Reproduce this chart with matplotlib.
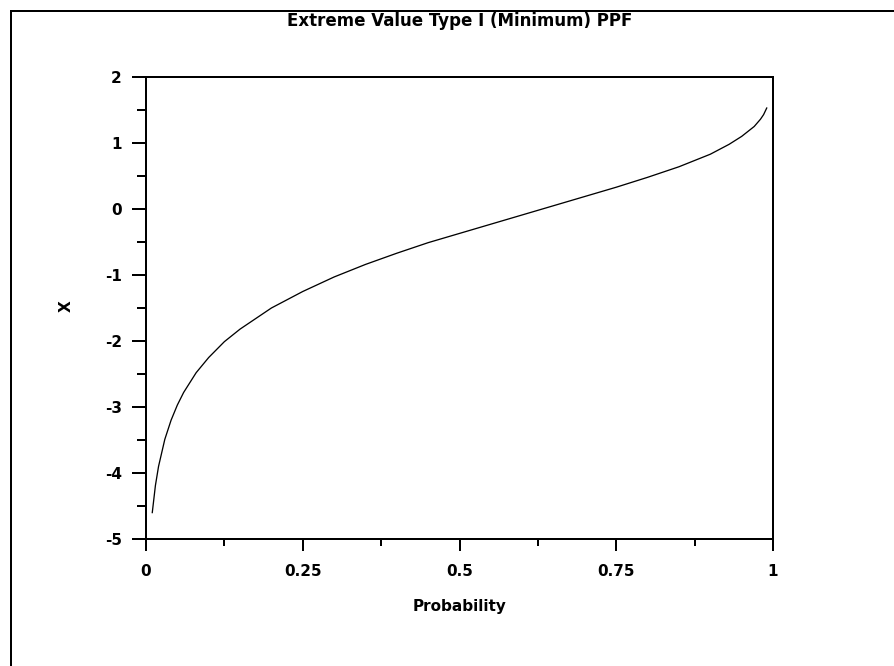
import matplotlib
matplotlib.use("Agg")
import matplotlib.pyplot as plt
from matplotlib.patches import Rectangle

# Data
prob = [0.01, 0.015, 0.02, 0.03, 0.04, 0.05, 0.06, 0.08, 0.10, 0.125, 0.15, 0.20, 0.25,
        0.30, 0.35, 0.40, 0.45, 0.50, 0.55, 0.60, 0.65, 0.70, 0.75, 0.80, 0.85,
        0.90, 0.93, 0.95, 0.97, 0.98, 0.985, 0.99]
xval = [-4.60, -4.19, -3.90, -3.49, -3.20, -2.97, -2.78, -2.48, -2.25, -2.01, -1.82, -1.50, -1.25,
        -1.03, -0.84, -0.67, -0.51, -0.37, -0.23, -0.09, 0.05, 0.19, 0.33, 0.48, 0.64,
        0.83, 0.98, 1.10, 1.25, 1.36, 1.43, 1.53]
xticks = [0, 0.25, 0.5, 0.75, 1]
xticklabels = ["0", "0.25", "0.5", "0.75", "1"]
yticks = [-5, -4, -3, -2, -1, 0, 1, 2]
yticklabels = ["-5", "-4", "-3", "-2", "-1", "0", "1", "2"]

W, H = 894, 666
PX = 72 / 100  # points per pixel
fig = plt.figure(figsize=(W / 100, H / 100), dpi=100)
fig.patch.set_facecolor("white")

# outer frame (left and top visible)
fig.patches.append(Rectangle((11 / W, -0.1), 1.2, (H - 11) / H + 0.1,
                             transform=fig.transFigure, fill=False,
                             edgecolor="black", linewidth=2 * PX))

left, right, top, bottom = 146, 773, 77, 539
ax = fig.add_axes([left / W, 1 - bottom / H, (right - left) / W, (bottom - top) / H])
ax.plot(prob, xval, color="black", linewidth=1.3 * PX)
ax.set_xlim(0, 1)
ax.set_ylim(-5, 2)
ax.set_xticks(xticks)
ax.set_xticklabels(xticklabels)
ax.set_yticks(yticks)
ax.set_yticklabels(yticklabels)
ax.set_xticks([0.125, 0.375, 0.625, 0.875], minor=True)
ax.set_yticks([-4.5, -3.5, -2.5, -1.5, -0.5, 0.5, 1.5], minor=True)
for s in ax.spines.values():
    s.set_linewidth(2 * PX)
tfont = dict(family="DejaVu Sans", weight="bold", size=11)
ax.tick_params(axis="x", which="major", direction="out", length=12 * PX, width=2 * PX, pad=13 * PX)
ax.tick_params(axis="x", which="minor", direction="out", length=7 * PX, width=2 * PX)
ax.tick_params(axis="y", which="major", direction="out", length=14 * PX, width=2 * PX, pad=10 * PX)
ax.tick_params(axis="y", which="minor", direction="out", length=9 * PX, width=2 * PX)
for lab in ax.get_xticklabels() + ax.get_yticklabels():
    lab.set_fontproperties(matplotlib.font_manager.FontProperties(**tfont))
ax.set_xlabel("Probability", fontdict=tfont, labelpad=20 * PX)
ax.yaxis.set_label_coords((66 - left) / (right - left), (bottom - 306) / (bottom - top))
ax.set_ylabel("X", fontdict=tfont, rotation=90, va="center", ha="center")
fig.text((left + right) / 2 / W, 1 - 21 / H, "Extreme Value Type I (Minimum) PPF",
         ha="center", va="center", family="DejaVu Sans", weight="bold", size=12)

fig.savefig("out.png", dpi=100)
